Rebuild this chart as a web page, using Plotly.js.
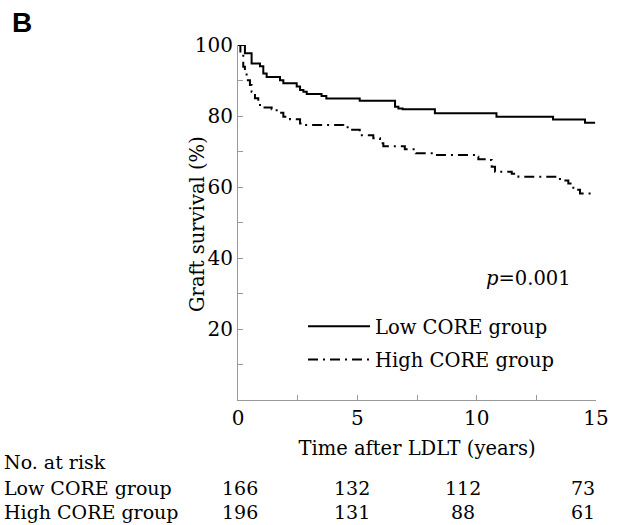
<!DOCTYPE html>
<html><head><meta charset="utf-8">
<script src="https://cdn.plot.ly/plotly-3.0.1.min.js"></script>
<style>html,body{margin:0;padding:0;background:#fff;}#chart{width:619px;height:525px;}</style>
</head><body><div id="chart"></div>
<script>
// Kaplan-Meier step data (years, % graft survival)
var lowTime = [0, 0.29, 0.57, 0.92, 1.06, 1.2, 1.76, 1.9, 2.46, 2.6, 2.74, 2.88, 3.5, 3.7, 5.1, 6.58, 6.72, 6.9, 8.25, 10.83, 13.2, 14.54, 14.96];
var lowSurv = [100, 97.7, 94.8, 94.0, 92.0, 91.0, 90.1, 89.2, 88.3, 87.3, 86.8, 86.2, 85.6, 84.9, 84.3, 82.6, 82.1, 81.9, 80.8, 79.8, 79.0, 78.1, 78.1];
var highTime = [0, 0.1, 0.22, 0.29, 0.36, 0.5, 0.57, 0.71, 0.85, 0.99, 1.41, 1.62, 1.9, 2.18, 2.6, 2.74, 4.41, 4.69, 5.1, 5.67, 5.95, 6.09, 6.99, 7.42, 7.45, 8.18, 9.93, 10.07, 10.48, 10.63, 10.77, 11.47, 11.75, 13.49, 13.84, 14.05, 14.33, 14.96];
var highSurv = [100, 97.7, 93.9, 92.0, 90.1, 88.7, 86.8, 85.0, 83.1, 82.4, 81.9, 80.9, 79.8, 79.1, 77.9, 77.5, 76.8, 76.1, 74.6, 73.7, 72.3, 71.5, 70.6, 70.0, 69.5, 69.0, 68.5, 67.8, 67.6, 65.7, 64.3, 63.7, 62.9, 61.8, 61.0, 59.2, 58.2, 58.2];

var groupNames = ["Low CORE group", "High CORE group"];
var riskTimes = [0, 5, 10, 15];
var lowRisk = [166, 132, 112, 73];
var highRisk = [196, 131, 88, 61];
var xTickVals = [0, 2.5, 5, 7.5, 10, 12.5, 15];
var xTickText = ["0", "", "5", "", "10", "", "15"];
var yTickVals = [10, 20, 30, 40, 50, 60, 70, 80, 90, 100];
var yTickText = ["", "20", "", "40", "", "60", "", "80", "", "100"];
var pText = "<i>p</i>=0.001";
var yTitle = "Graft survival (%)";

var serif = "DejaVu Serif";
var fs = 19.5;
var axisColor = "#999999";

var traces = [
  {x: lowTime, y: lowSurv, type: "scatter", mode: "lines", name: groupNames[0], legendgroup: "a",
   line: {shape: "hv", color: "#000", width: 2}},
  {x: highTime, y: highSurv, type: "scatter", mode: "lines", name: groupNames[1], legendgroup: "b",
   line: {shape: "hv", color: "#000", width: 2, dash: "10px,5px,2px,5px"}}
];

var L = 238, T = 45, W = 358, H = 355;
function px(p) { return (p - L) / W; }
function py(p) { return (T + H - p) / H; }

function txt(t, x, y, xa, size, extra) {
  var a = {text: t, xref: "paper", yref: "paper", x: px(x), y: py(y), xanchor: xa, yanchor: "middle",
    showarrow: false, borderpad: 0, font: {family: serif, size: size, color: "#000"}};
  if (extra) for (var k in extra) a[k] = extra[k];
  return a;
}

var ann = [];
ann.push({text: "B", xref: "paper", yref: "paper", x: px(10), y: py(22), xanchor: "left", yanchor: "middle",
  showarrow: false, font: {family: "Liberation Sans", size: 28, color: "#000", weight: "bold"}});
ann.push(txt(pText, 485, 278, "left", fs));
ann.push(txt(yTitle, 197, 224, "center", fs, {textangle: -90}));
ann.push(txt("No. at risk", 3, 462, "left", 19));
ann.push(txt(groupNames[0], 3, 488, "left", 19));
ann.push(txt(groupNames[1], 3, 512, "left", 19));
for (var i = 0; i < riskTimes.length; i++) {
  var xa = i === riskTimes.length - 1 ? "right" : "center";
  var xs = i === 0 ? 2 : (i === 1 ? -5 : (i === 2 ? -14 : 0));
  ann.push({text: String(lowRisk[i]), xref: "x", yref: "paper", x: riskTimes[i], xshift: xs, y: py(488), xanchor: xa, yanchor: "middle",
    showarrow: false, borderpad: 0, font: {family: serif, size: 19, color: "#000"}});
  ann.push({text: String(highRisk[i]), xref: "x", yref: "paper", x: riskTimes[i], xshift: xs, y: py(512), xanchor: xa, yanchor: "middle",
    showarrow: false, borderpad: 0, font: {family: serif, size: 19, color: "#000"}});
}

var layout = {
  width: 619, height: 525,
  margin: {l: L, r: 619 - L - W, t: T, b: 525 - T - H},
  paper_bgcolor: "#fff", plot_bgcolor: "#fff",
  showlegend: true,
  legend: {x: px(303), y: py(307), xanchor: "left", yanchor: "top", bgcolor: "rgba(0,0,0,0)",
    font: {family: serif, size: fs, color: "#000"}, traceorder: "grouped", tracegroupgap: 5, itemwidth: 62},
  xaxis: {range: [0, 15], tickmode: "array", tickvals: xTickVals, ticktext: xTickText,
    showgrid: false, zeroline: false, showline: true, linecolor: axisColor, linewidth: 1,
    ticks: "inside", ticklen: 5, tickcolor: axisColor, tickfont: {family: serif, size: 20, color: "#000"},
    title: {text: "Time after LDLT (years)", font: {family: serif, size: fs, color: "#000"}, standoff: 12}},
  yaxis: {range: [0, 100], tickmode: "array", tickvals: yTickVals, ticktext: yTickText,
    showgrid: false, zeroline: false, showline: true, linecolor: axisColor, linewidth: 1,
    ticks: "inside", ticklen: 5, tickcolor: axisColor, tickfont: {family: serif, size: 20, color: "#000"}},
  annotations: ann
};

Plotly.newPlot("chart", traces, layout, {displayModeBar: false, staticPlot: true});
</script>
</body></html>
